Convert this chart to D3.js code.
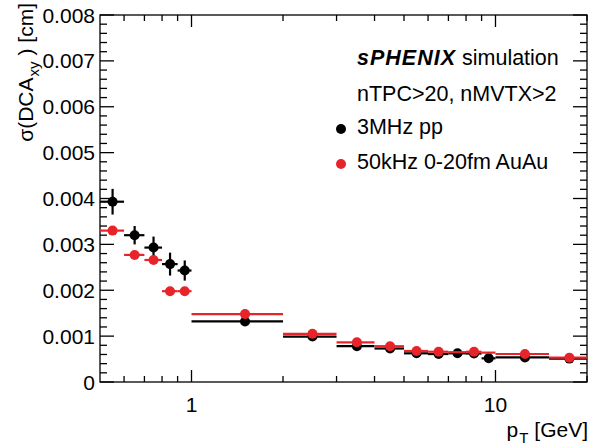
<!DOCTYPE html>
<html><head><meta charset="utf-8">
<script src="https://cdn.jsdelivr.net/npm/d3@7"></script>
<style>body{margin:0;background:#fff}svg{display:block}text{font-family:"Liberation Sans",Arial,sans-serif;fill:#000}</style>
</head><body><svg id="c" width="592" height="448"></svg>
<script>
// bins in pT [GeV]
const ptLo = [0.5,0.6,0.7,0.8,0.9,1,2,3,4,5,6,7,8,9,10,15];
const ptHi = [0.6,0.7,0.8,0.9,1.0,2,3,4,5,6,7,8,9,10,15,20];
const ppVal = [0.00393,0.00320,0.00293,0.00257,0.00243,0.00132,0.00099,0.00078,0.00073,0.000625,0.00061,0.000625,0.00062,0.000516,0.000535,0.00051];
const ppErr = [0.00028,0.00020,0.00024,0.00025,0.00022,0,0,0,0,0,0,0,0,0,0,0];
const auVal = [0.00330,0.00277,0.00266,0.00198,0.00198,0.00148,0.00105,0.000865,0.00078,0.000676,0.00066,0.00065,0.00066,0.00064,0.00061,0.00053];
const auErr = [0.00007,0.00005,0.00006,0.00004,0.00004,0,0,0,0,0,0,0,0,0,0,0];
const auMarker = [1,1,1,1,1,1,1,1,1,1,1,0,1,0,1,1];
const yTicks = [0,0.001,0.002,0.003,0.004,0.005,0.006,0.007,0.008];
const yTickLabels = ["0","0.001","0.002","0.003","0.004","0.005","0.006","0.007","0.008"];
const xMajor = [1,10];
const xMinor = [0.6,0.7,0.8,0.9,2,3,4,5,6,7,8,9,20];
const legendLabels = ["3MHz pp","50kHz 0-20fm AuAu"];

const RED = "#e8242b";
const L=100,R=587,T=15,B=382;
const svg = d3.select("#c");
const x = d3.scaleLog().domain([0.5,20]).range([L,R]);
const y = d3.scaleLinear().domain([0,0.008]).range([B,T]);

// frame
svg.append("rect").attr("x",L).attr("y",T).attr("width",R-L).attr("height",B-T)
  .attr("fill","none").attr("stroke","#000").attr("stroke-width",1.3);

const g = svg.append("g").attr("stroke","#000").attr("stroke-width",1.3);
const yMinor = d3.range(0,41).map(i=>i*0.0002);
yMinor.forEach((v,i)=>{
  const len = (i%5===0)?14:7;
  g.append("line").attr("x1",L).attr("x2",L+len).attr("y1",y(v)).attr("y2",y(v));
  g.append("line").attr("x1",R).attr("x2",R-len).attr("y1",y(v)).attr("y2",y(v));
});
xMajor.forEach(v=>{
  g.append("line").attr("x1",x(v)).attr("x2",x(v)).attr("y1",B).attr("y2",B-12);
  g.append("line").attr("x1",x(v)).attr("x2",x(v)).attr("y1",T).attr("y2",T+12);
});
xMinor.forEach(v=>{
  g.append("line").attr("x1",x(v)).attr("x2",x(v)).attr("y1",B).attr("y2",B-6);
  g.append("line").attr("x1",x(v)).attr("x2",x(v)).attr("y1",T).attr("y2",T+6);
});

// tick labels
yTicks.forEach((v,i)=>{
  svg.append("text").attr("x",95).attr("y",y(v)).attr("dy","0.36em").attr("text-anchor","end")
    .attr("font-size",21).text(yTickLabels[i]);
});
xMajor.forEach(v=>{
  svg.append("text").attr("x",x(v)).attr("y",412).attr("text-anchor","middle")
    .attr("font-size",21).text(d3.format("d")(v));
});

// axis titles
const xt = svg.append("text").attr("x",588).attr("y",437).attr("text-anchor","end").attr("font-size",21);
xt.append("tspan").text("p");
xt.append("tspan").attr("font-size",15).attr("dy",6).attr("dx",1).text("T");
xt.append("tspan").attr("dy",-6).text(" [GeV]");

const yt = svg.append("text").attr("transform","translate(33,3) rotate(-90)").attr("text-anchor","end").attr("font-size",21);
yt.append("tspan").text("σ(DCA");
yt.append("tspan").attr("font-size",15).attr("dy",6).attr("dx",1).text("xy");
yt.append("tspan").attr("dy",-6).attr("dx",6).text(")  [cm]");

// data series
function drawSeries(vals, errs, color, showMarker){
  const gg = svg.append("g");
  vals.forEach((v,i)=>{
    const cx = x((ptLo[i]+ptHi[i])/2);
    gg.append("line").attr("x1",x(ptLo[i])).attr("x2",x(ptHi[i])).attr("y1",y(v)).attr("y2",y(v))
      .attr("stroke",color).attr("stroke-width",2.2);
    if(errs[i]>0){
      gg.append("line").attr("x1",cx).attr("x2",cx).attr("y1",y(v-errs[i])).attr("y2",y(v+errs[i]))
        .attr("stroke",color).attr("stroke-width",2.2);
    }
    if(showMarker[i]){
      gg.append("circle").attr("cx",cx).attr("cy",y(v)).attr("r",5).attr("fill",color);
    }
  });
}
drawSeries(ppVal, ppErr, "#000", ppVal.map(()=>1));
drawSeries(auVal, auErr, RED, auMarker);

// legend / annotations
const t1 = svg.append("text").attr("x",357).attr("y",65).attr("font-size",21.5);
t1.append("tspan").attr("font-weight","bold").attr("font-style","italic").attr("letter-spacing",1).text("sPHENIX");
t1.append("tspan").text(" simulation");
svg.append("text").attr("x",357).attr("y",101).attr("font-size",21.5).text("nTPC>20, nMVTX>2");
[["#000",129,134],[RED,164,169]].forEach((d,i)=>{
  svg.append("circle").attr("cx",341).attr("cy",d[1]).attr("r",5).attr("fill",d[0]);
  svg.append("text").attr("x",357).attr("y",d[2]).attr("font-size",21.5).text(legendLabels[i]);
});
</script></body></html>
